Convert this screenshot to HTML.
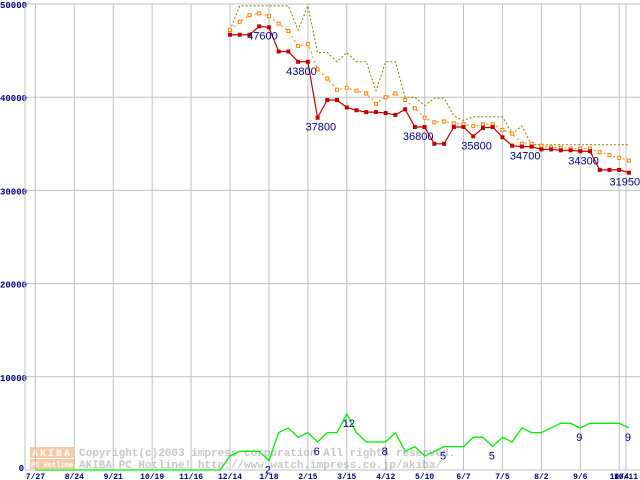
<!DOCTYPE html>
<html><head><meta charset="utf-8"><style>
body{margin:0;background:#fff;}
svg{display:block;font-family:"Liberation Mono",monospace;}
</style></head><body>
<svg width="640" height="480" id="c">
<g id="grid"></g>
<g id="wm" opacity="0.55">
<rect x="30" y="447" width="44" height="11" fill="#f4a060"/>
<rect x="30" y="459" width="44" height="10" fill="#f4a060"/>
<text x="32" y="456" font-size="10" font-weight="bold" fill="#fff" letter-spacing="2">AKIBA</text>
<text x="31" y="467" font-size="7" font-weight="bold" fill="#fff">PC Hotline!</text>
<text x="79" y="456" font-size="11" font-weight="bold" fill="#999">Copyright(c)2003 impress corporation All rights reserved.</text>
<text x="79" y="468" font-size="11" font-weight="bold" fill="#999">AKIBA PC Hotline!  http://www.watch.impress.co.jp/akiba/</text>
</g>
<g id="series"></g>
<g id="labels"></g>
</svg>
<script>
const xTickLabels=["7/27","8/24","9/21","10/19","11/16","12/14","1/18","2/15","3/15","4/12","5/10","6/7","7/5","8/2","9/6","10/4","10/11"];
const xTickIdx=[-20,-16,-12,-8,-4,0,4,8,12,16,20,24,28,32,36,40,40.7];
const yTicks=[0,10000,20000,30000,40000,50000];
const minPrice=[46700,46700,46700,47600,47500,44900,44900,43800,43800,37800,39700,39700,38900,38600,38400,38400,38300,38100,38700,36800,36800,35000,35000,36800,36800,35800,36700,36800,35700,34800,34700,34700,34400,34400,34300,34300,34200,34200,32200,32200,32200,31900];
const avgPrice=[47200,48100,48800,49000,48700,47900,47100,45500,45700,43000,42000,40800,41000,40700,40400,39300,40000,40400,39700,38800,37800,37300,37400,37200,37100,36900,37100,37100,36500,36100,35000,35000,34800,34600,34600,34500,34500,34500,34100,33800,33500,33200];
const maxPrice=[47200,49800,49800,49800,49800,49800,49800,47200,49800,44800,44800,43800,44800,43800,43800,40700,43800,43800,40000,40000,39100,39900,39900,38000,37500,37900,37900,37900,37900,36100,36900,34900,34900,34900,34900,34900,34900,34900,34900,34900,34900,34900];
const shopCount=[0,0,0,0,0,0,0,0,0,0,0,0,0,0,0,0,0,0,0,0,3,4,4,4,2,8,9,7,8,6,8,8,12,8,6,6,6,8,4,5,3,4,5,5,5,7,7,5,7,6,9,8,8,9,10,10,9,10,10,10,10,9];
const priceLabels=[[3,"47600"],[7,"43800"],[9,"37800"],[19,"36800"],[25,"35800"],[30,"34700"],[36,"34300"],[41,"31950"]];
const countLabels=[[24,"2"],[29,"6"],[32,"12"],[36,"8"],[42,"5"],[47,"5"],[56,"9"],[61,"9"]];
const NS="http://www.w3.org/2000/svg";
const X=i=>230+i*9.73;
const Y=v=>470-v*0.00932;
const YC=c=>470-c*4.67;
function mk(tag,attrs,parent){const e=document.createElementNS(NS,tag);for(const k in attrs)e.setAttribute(k,attrs[k]);parent.appendChild(e);return e;}
const grid=document.getElementById('grid'),ser=document.getElementById('series'),lab=document.getElementById('labels');
yTicks.forEach(v=>{
 const l=mk('line',{x1:25,x2:640,y1:Y(v),y2:Y(v),stroke:'#c0c0c0','stroke-width':1},grid);
 
 
 const t=mk('text',{x:v===0?24:0,y:Y(v)+(v===0?1:4),'font-size':9,'font-weight':'bold',fill:'#000080','text-anchor':v===0?'end':'start'},grid);
 t.textContent=String(v);
 
 
});
mk('line',{x1:25,x2:25,y1:4,y2:470,stroke:'#c0c0c0'},grid);
xTickIdx.forEach((w,k)=>{
 const x=X(w);
 const l=mk('line',{x1:x,x2:x,y1:4,y2:470,stroke:'#c0c0c0'},grid);
 
 
 const t=mk('text',{x:x,y:479,'font-size':8,'font-weight':'bold',fill:'#000080','text-anchor':'middle'},grid);
 t.textContent=xTickLabels[k];
 
 
});
function line(arr,fx,fy,attrs,name){
 const p=mk('polyline',Object.assign({points:arr.map((v,i)=>fx(i)+','+fy(v)).join(' '),fill:'none'},attrs),ser);
 
 
}
line(shopCount,i=>X(i-20),YC,{stroke:'#00ee00','stroke-width':1.3},'shop-count-line');
line(maxPrice,X,Y,{stroke:'#808000','stroke-dasharray':'2,2'},'max-price-line');
line(avgPrice,X,Y,{stroke:'#ff8000','stroke-dasharray':'2,3'},'avg-price-line');
avgPrice.forEach((v,i)=>{const r=mk('rect',{x:X(i)-1.5,y:Y(v)-1.5,width:3,height:3,fill:'#fff',stroke:'#ff8000','stroke-width':1},ser);
 
 });
line(minPrice,X,Y,{stroke:'#c00000','stroke-width':1.2},'min-price-line');
minPrice.forEach((v,i)=>{const r=mk('rect',{x:X(i)-2,y:Y(v)-2,width:4,height:4,fill:'#c00000'},ser);
 
 });
priceLabels.forEach(([i,s])=>{const t=mk('text',{x:Math.min(X(i)-12,640-s.length*6.1),y:Y(minPrice[i])+13,'font-family':'Liberation Sans, sans-serif','font-size':11,fill:'#000080'},lab);
 t.textContent=s;
 
 });
countLabels.forEach(([i,s])=>{const t=mk('text',{x:X(i-20)-4,y:YC(shopCount[i])+13,'font-family':'Liberation Sans, sans-serif','font-size':11,fill:'#000080'},lab);
 t.textContent=s;
 
 });
</script>
</body></html>
